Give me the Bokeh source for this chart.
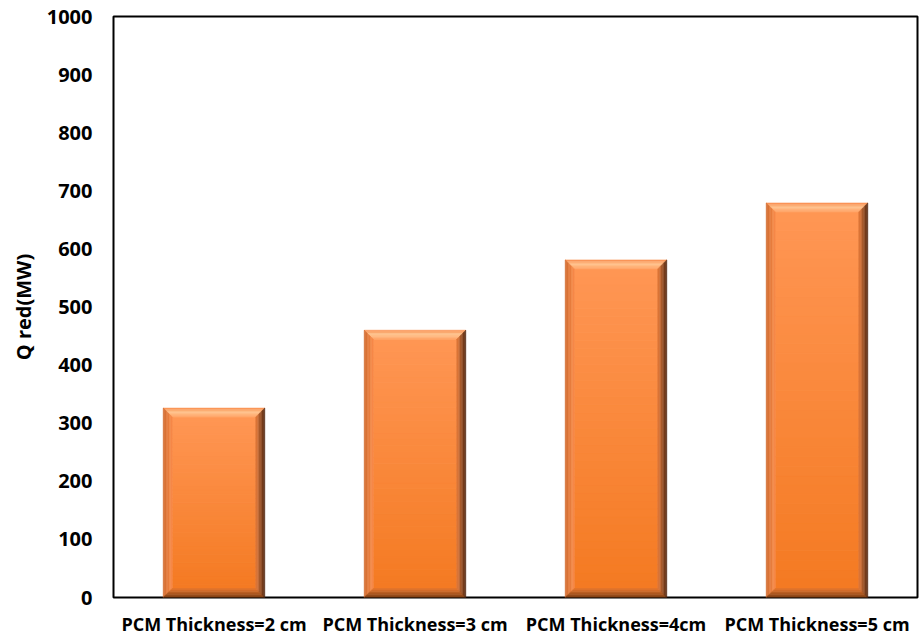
import numpy as np
from bokeh.plotting import figure
from bokeh.models import Range1d, FixedTicker
from bokeh.embed import file_html
from bokeh.resources import INLINE

# Heat reduction for each PCM layer thickness
categories = ["PCM Thickness=2 cm", "PCM Thickness=3 cm",
              "PCM Thickness=4cm", "PCM Thickness=5 cm"]
q_red = [326, 460, 581, 679]
y_ticks = [0, 100, 200, 300, 400, 500, 600, 700, 800, 900, 1000]

W, H = 922, 638
B_LEFT, B_RIGHT, B_TOP, B_BOTTOM = 113, 5, 16, 40
plot_w = W - B_LEFT - B_RIGHT
plot_h = H - B_TOP - B_BOTTOM

x_pos = list(range(1, len(categories) + 1))
x_range = Range1d(0.5, len(categories) + 0.5)
y_range = Range1d(0, 1000)

p = figure(width=W, height=H, x_range=x_range, y_range=y_range,
           output_backend="svg", toolbar_location=None,
           min_border_left=B_LEFT, min_border_right=B_RIGHT,
           min_border_top=B_TOP, min_border_bottom=B_BOTTOM)

# data units per screen pixel
ux = (x_range.end - x_range.start) / plot_w
uy = (y_range.end - y_range.start) / plot_h

BAR_W = 0.505
BEVEL = 9  # px


def hex2rgb(h):
    h = h.lstrip("#")
    return np.array([int(h[i:i + 2], 16) for i in (0, 2, 4)], dtype=float)


def mix(c0, c1, t):
    c = hex2rgb(c0) * (1 - t) + hex2rgb(c1) * t
    return "#%02x%02x%02x" % tuple(int(round(v)) for v in c)


def mix3(c0, c1, c2, t):
    return mix(c0, c1, t * 2) if t < 0.5 else mix(c1, c2, (t - 0.5) * 2)


face_x0, face_x1, face_y0, face_y1, face_col = [], [], [], [], []
bev_xs, bev_ys, bev_col = [], [], []

N_FACE = 40
N_BEV = 6
dx = BEVEL * ux
dy = BEVEL * uy

for xc, v in zip(x_pos, q_red):
    L, R = xc - BAR_W / 2, xc + BAR_W / 2
    B, T = 0.0, float(v)
    # vertical gradient of the bar face
    ys = np.linspace(B + dy, T - dy, N_FACE + 1)
    for k in range(N_FACE):
        t = (k + 0.5) / N_FACE
        face_x0.append(L + dx)
        face_x1.append(R - dx)
        face_y0.append(ys[k])
        face_y1.append(ys[k + 1])
        face_col.append(mix("#f47a22", "#ff9654", t))

    # bevelled edges, drawn as thin mitred strips from outer edge inwards
    for k in range(N_BEV):
        a0, a1 = k / N_BEV, (k + 1) / N_BEV
        t = (k + 0.5) / N_BEV
        sx0, sx1 = a0 * dx, a1 * dx
        sy0, sy1 = a0 * dy, a1 * dy
        # top
        bev_xs.append([L + sx0, R - sx0, R - sx1, L + sx1])
        bev_ys.append([T - sy0, T - sy0, T - sy1, T - sy1])
        bev_col.append(mix3("#f98c4c", "#ffc590", "#ffa264", t))
        # left
        bev_xs.append([L + sx0, L + sx1, L + sx1, L + sx0])
        bev_ys.append([T - sy0, T - sy1, B + sy1, B + sy0])
        bev_col.append(mix("#d06a2e", "#fa8c4a", t))
        # bottom
        bev_xs.append([L + sx0, R - sx0, R - sx1, L + sx1])
        bev_ys.append([B + sy0, B + sy0, B + sy1, B + sy1])
        bev_col.append(mix("#7a3c14", "#e8782e", t))
        # right
        bev_xs.append([R - sx0, R - sx1, R - sx1, R - sx0])
        bev_ys.append([T - sy0, T - sy1, B + sy1, B + sy0])
        bev_col.append(mix("#4a2410", "#e87c3a", t))

p.quad(left=face_x0, right=face_x1, bottom=face_y0, top=face_y1,
       fill_color=face_col, line_color=face_col, line_width=1)
p.patches(xs=bev_xs, ys=bev_ys, fill_color=bev_col, line_color=bev_col,
          line_width=0.6)

# axes
p.xgrid.visible = False
p.ygrid.visible = False
p.outline_line_color = "black"
p.outline_line_width = 2

for ax in (p.xaxis[0], p.yaxis[0]):
    ax.axis_line_color = None
    ax.major_tick_line_color = None
    ax.minor_tick_line_color = None
    ax.major_tick_in = 0
    ax.major_tick_out = 0
    ax.minor_tick_in = 0
    ax.minor_tick_out = 0
    ax.major_label_text_font = "Open Sans"
    ax.major_label_text_font_style = "bold"
    ax.major_label_text_color = "black"

p.xaxis.ticker = FixedTicker(ticks=x_pos)
p.xaxis.major_label_overrides = {i: c for i, c in zip(x_pos, categories)}
p.xaxis.major_label_text_font_size = "18px"
p.xaxis.major_label_standoff = 14

p.yaxis.ticker = FixedTicker(ticks=y_ticks)
p.yaxis.major_label_text_font_size = "20px"
p.yaxis.major_label_standoff = 21
p.yaxis.axis_label = "Q red(MW)"
p.yaxis.axis_label_text_font = "Open Sans"
p.yaxis.axis_label_text_font_style = "bold"
p.yaxis.axis_label_text_font_size = "20px"
p.yaxis.axis_label_text_color = "black"
p.yaxis.axis_label_standoff = 7

p.background_fill_color = "white"
p.border_fill_color = "white"

open("out.html", "w").write(file_html(p, INLINE))
